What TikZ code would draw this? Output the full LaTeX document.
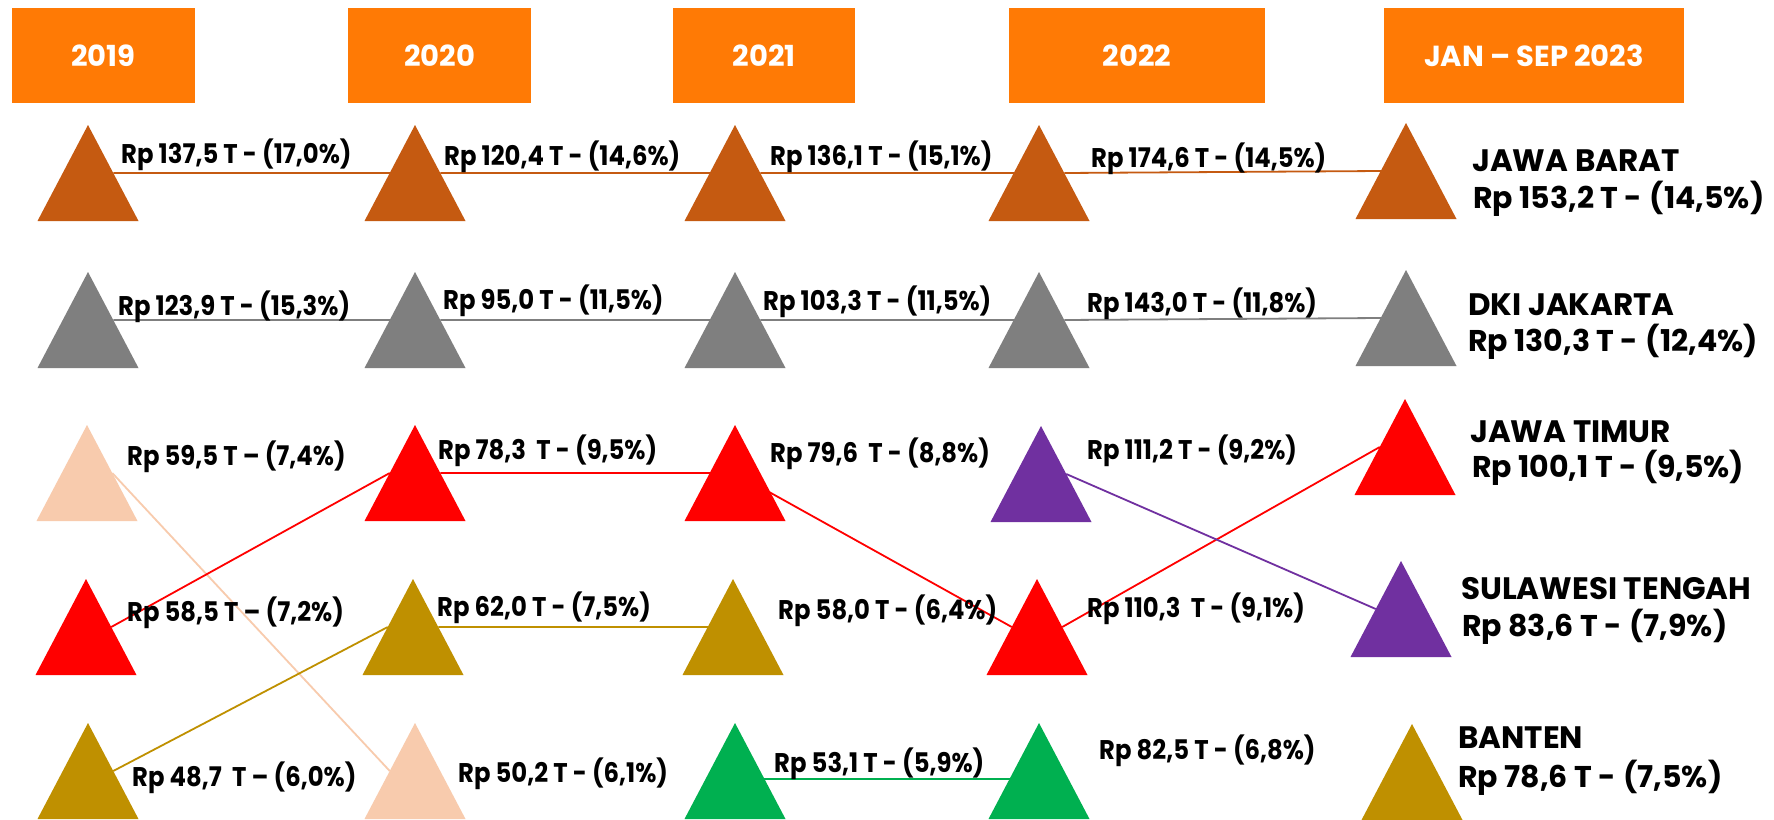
\documentclass[tikz,border=0pt]{standalone}
\usepackage{fontspec}
\newfontfamily\popf{Poppins}
\newfontfamily\popc{Poppins}[FakeStretch=0.9]
\usetikzlibrary{calc}
\definecolor{hdr}{HTML}{FF7A05}
\definecolor{cbrown}{HTML}{C55A11}
\definecolor{cgray}{HTML}{7F7F7F}
\definecolor{cred}{HTML}{FF0000}
\definecolor{cpeach}{HTML}{F8CBAD}
\definecolor{cgold}{HTML}{BF9000}
\definecolor{cpurple}{HTML}{7030A0}
\definecolor{cgreen}{HTML}{00B050}
\begin{document}
\begin{tikzpicture}[x=1pt,y=-1pt,
  tribox/.style={minimum width=101pt, minimum height=96pt, inner sep=0pt, outer sep=0pt},
  hdrbox/.style={fill=hdr, inner sep=0pt, minimum height=95pt, text=white, font=\popf\bfseries\fontsize{29}{34}\selectfont},
  val/.style={anchor=base west, inner sep=0pt, font=\popc\bfseries\fontsize{27}{32}\selectfont},
  nm/.style={anchor=base west, inner sep=0pt, font=\popf\bfseries\fontsize{31}{36}\selectfont},
  nv/.style={anchor=base west, inner sep=0pt, font=\popf\bfseries\fontsize{30}{36}\selectfont},
  link/.style={line width=1.8pt}
]
\useasboundingbox (0,0) rectangle (1774,819);
\clip (0,0) rectangle (1774,819);
\fill[white] (0,0) rectangle (1774,819);

% headers
\node[hdrbox, minimum width=183pt] (h1) at (103.5,55.5) {2019};
\node[hdrbox, minimum width=183pt] (h2) at (439.5,55.5) {2020};
\node[hdrbox, minimum width=182pt] (h3) at (764,55.5) {2021};
\node[hdrbox, minimum width=256pt] (h4) at (1137,55.5) {2022};
\node[hdrbox, minimum width=300pt] (h5) at (1534,55.5) {JAN – SEP 2023};

% triangle frames
\node[tribox] (a1) at (88,173) {};
\node[tribox] (b1) at (415,173) {};
\node[tribox] (c1) at (735,173) {};
\node[tribox] (d1) at (1039,173) {};
\node[tribox] (e1) at (1406,171) {};
\node[tribox] (a2) at (88,320) {};
\node[tribox] (b2) at (415,320) {};
\node[tribox] (c2) at (735,320) {};
\node[tribox] (d2) at (1039,320) {};
\node[tribox] (e2) at (1406,318) {};
\node[tribox] (a3) at (87,473) {};
\node[tribox] (b3) at (415,473) {};
\node[tribox] (c3) at (735,473) {};
\node[tribox] (d3) at (1041,474) {};
\node[tribox] (e3) at (1405,447) {};
\node[tribox] (a4) at (86,627) {};
\node[tribox] (b4) at (413,627) {};
\node[tribox] (c4) at (733,627) {};
\node[tribox] (d4) at (1037,627) {};
\node[tribox] (e4) at (1401,609) {};
\node[tribox] (a5) at (88,771) {};
\node[tribox] (b5) at (415,771) {};
\node[tribox] (c5) at (735,771) {};
\node[tribox] (d5) at (1039,771) {};
\node[tribox] (e5) at (1412,772) {};

\foreach \n in {a1,b1,c1,d1,e1,a2,b2,c2,d2,e2,a3,b3,c3,d3,e3,a4,b4,c4,d4,e4,a5,b5,c5,d5,e5}{
  \coordinate (\n r) at ($(\n.north)!.5!(\n.south east)$);
  \coordinate (\n l) at ($(\n.north)!.5!(\n.south west)$);
}
\coordinate (c5g) at ($(c5.north)!.58!(c5.south east)$);
\coordinate (d5g) at ($(d5.north)!.58!(d5.south west)$);

% connectors
\draw[link,cbrown] (a1r) -- (b1l) (b1r) -- (c1l) (c1r) -- (d1l) (d1r) -- (e1l);
\draw[link,cgray] (a2r) -- (b2l) (b2r) -- (c2l) (c2r) -- (d2l) (d2r) -- (e2l);
\draw[link,cpeach] (a3r) -- (b5l);
\draw[link,cred] (a4r) -- (b3l) (b3r) -- (c3l) (c3.center) -- (d4l) (d4r) -- (e3l);
\draw[link,cgold] (a5r) -- (b4l) (b4r) -- (c4l);
\draw[link,cpurple] (d3r) -- (e4l);
\draw[link,cgreen] (c5g) -- (d5g);

% triangles
\newcommand\trifill[2]{\fill[#2] (#1.south west) -- (#1.south east) -- (#1.north) -- cycle;}
\foreach \n in {a1,b1,c1,d1,e1}{\trifill{\n}{cbrown}}
\foreach \n in {a2,b2,c2,d2,e2}{\trifill{\n}{cgray}}
\trifill{a3}{cpeach}\trifill{b3}{cred}\trifill{c3}{cred}\trifill{d3}{cpurple}\trifill{e3}{cred}
\trifill{a4}{cred}\trifill{b4}{cgold}\trifill{c4}{cgold}\trifill{d4}{cred}\trifill{e4}{cpurple}
\trifill{a5}{cgold}\trifill{b5}{cpeach}\trifill{c5}{cgreen}\trifill{d5}{cgreen}\trifill{e5}{cgold}

% value labels
\node[val] (v1) at (121,163) {Rp 137,5 T - (17,0\%)};
\node[val] (v2) at (444,165) {Rp 120,4 T - (14,6\%)};
\node[val] (v3) at (770,165) {Rp 136,1 T - (15,1\%)};
\node[val] (v4) at (1091,167) {Rp 174,6 T - (14,5\%)};
\node[val] (v5) at (118,315) {Rp 123,9 T - (15,3\%)};
\node[val] (v6) at (443,309) {Rp 95,0 T - (11,5\%)};
\node[val] (v7) at (763,310) {Rp 103,3 T - (11,5\%)};
\node[val] (v8) at (1087,312) {Rp 143,0 T - (11,8\%)};
\node[val] (v9) at (127,465) {Rp 59,5 T – (7,4\%)};
\node[val] (v10) at (438,459) {Rp 78,3\ \ T - (9,5\%)};
\node[val] (v11) at (770,462) {Rp 79,6\ \ T - (8,8\%)};
\node[val] (v12) at (1087,459) {Rp 111,2 T - (9,2\%)};
\node[val] (v13) at (127,621) {Rp 58,5 T – (7,2\%)};
\node[val] (v14) at (437,616) {Rp 62,0 T - (7,5\%)};
\node[val] (v15) at (778,619) {Rp 58,0 T - (6,4\%)};
\node[val] (v16) at (1087,617) {Rp 110,3\ \ T - (9,1\%)};
\node[val] (v17) at (132,786) {Rp 48,7\ \ T – (6,0\%)};
\node[val] (v18) at (458,782) {Rp 50,2 T - (6,1\%)};
\node[val] (v19) at (774,772) {Rp 53,1 T - (5,9\%)};
\node[val] (v20) at (1099,759) {Rp 82,5 T - (6,8\%)};

% province labels
\node[nm] (n1) at (1472,171) {JAWA BARAT};
\node[nv] (m1) at (1473,208) {Rp 153,2 T -\hspace{1.5pt} (14,5\%)};
\node[nm] (n2) at (1468,315) {DKI JAKARTA};
\node[nv] (m2) at (1468,351) {Rp 130,3 T -\hspace{1.5pt} (12,4\%)};
\node[nm] (n3) at (1470,442) {JAWA TIMUR};
\node[nv] (m3) at (1472,477) {Rp 100,1 T - (9,5\%)};
\node[nm] (n4) at (1461,599) {SULAWESI TENGAH};
\node[nv] (m4) at (1462,636) {Rp 83,6 T -\hspace{1.5pt} (7,9\%)};
\node[nm] (n5) at (1458,748) {BANTEN};
\node[nv] (m5) at (1458,787) {Rp 78,6 T -\hspace{1.5pt} (7,5\%)};
\end{tikzpicture}
\end{document}
